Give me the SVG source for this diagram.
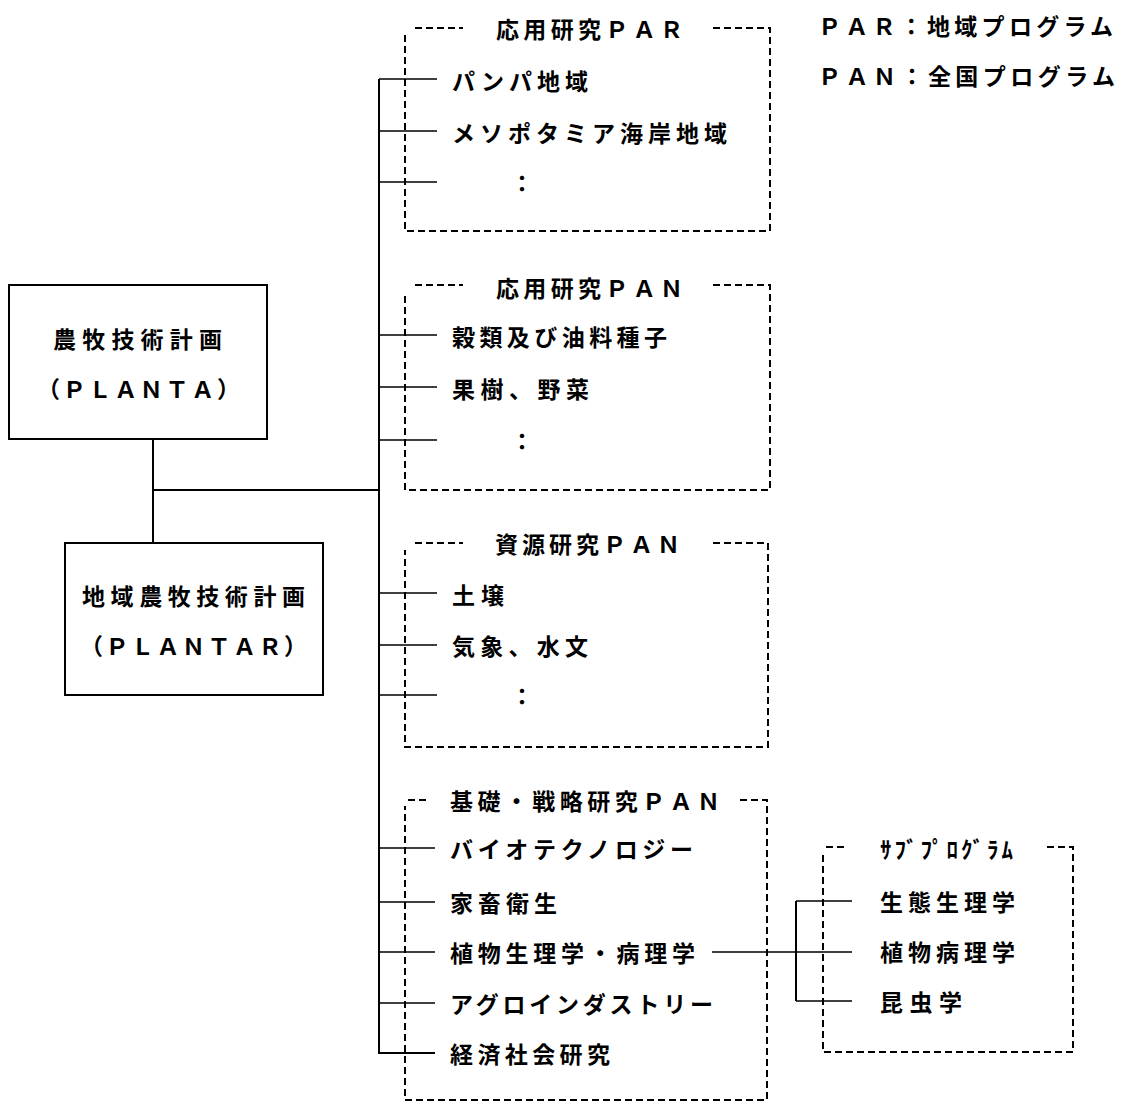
<svg xmlns="http://www.w3.org/2000/svg" width="1125" height="1105" viewBox="0 0 1125 1105">
<style>
text{font-family:"Noto Sans CJK JP","Noto Sans",sans-serif;font-size:23px;font-weight:700;fill:#000;dominant-baseline:central}
.box{fill:none;stroke:#000;stroke-width:2}
.dash{fill:none;stroke:#000;stroke-width:2;stroke-dasharray:7 4}
.ln{fill:none;stroke:#000;stroke-width:2}
.thin{fill:none;stroke:#000;stroke-width:1.5}
</style>
<rect width="1125" height="1105" fill="#fff"/>
<g id="legend">
<text x="818" y="25" textLength="295" lengthAdjust="spacing">ＰＡＲ：地域プログラム</text>
<text x="818" y="75" textLength="297" lengthAdjust="spacing">ＰＡＮ：全国プログラム</text>
</g>
<g id="planta">
<rect class="box" x="9" y="285" width="258" height="154"/>
<text x="53" y="338" textLength="169" lengthAdjust="spacing">農牧技術計画</text>
<text x="37" y="388" textLength="203" lengthAdjust="spacing">（ＰＬＡＮＴＡ）</text>
</g>
<g id="plantar">
<rect class="box" x="65" y="543" width="258" height="152"/>
<text x="82" y="595" textLength="223" lengthAdjust="spacing">地域農牧技術計画</text>
<text x="80" y="645" textLength="227" lengthAdjust="spacing">（ＰＬＡＮＴＡＲ）</text>
</g>
<g id="par">
<path class="dash" d="M415 28H463M713 28H770V231H405V35"/>
<text x="496" y="28" textLength="187" lengthAdjust="spacing">応用研究ＰＡＲ</text>
<text x="452" y="80" textLength="136" lengthAdjust="spacing">パンパ地域</text>
<text x="452" y="132" textLength="275" lengthAdjust="spacing">メソポタミア海岸地域</text>
<text x="522" y="182" text-anchor="middle">：</text>
</g>
<g id="pan1">
<path class="dash" d="M415 285H463M713 285H770V490H405V292"/>
<text x="496" y="287" textLength="187" lengthAdjust="spacing">応用研究ＰＡＮ</text>
<text x="452" y="336" textLength="215" lengthAdjust="spacing">穀類及び油料種子</text>
<text x="452" y="388" textLength="137" lengthAdjust="spacing">果樹、野菜</text>
<text x="522" y="440" text-anchor="middle">：</text>
</g>
<g id="pan2">
<path class="dash" d="M415 543H463M713 543H768V747H405V550"/>
<text x="495" y="543" textLength="185" lengthAdjust="spacing">資源研究ＰＡＮ</text>
<text x="452" y="594" textLength="52" lengthAdjust="spacing">土壌</text>
<text x="452" y="645" textLength="136" lengthAdjust="spacing">気象、水文</text>
<text x="522" y="695" text-anchor="middle">：</text>
</g>
<g id="pan3">
<path class="dash" d="M408 800H428M740 800H767V1100H405V806"/>
<text x="450" y="800" textLength="270" lengthAdjust="spacing">基礎・戦略研究ＰＡＮ</text>
<text x="450" y="848" textLength="243" lengthAdjust="spacing">バイオテクノロジー</text>
<text x="450" y="902" textLength="107" lengthAdjust="spacing">家畜衛生</text>
<text x="450" y="952" textLength="245" lengthAdjust="spacing">植物生理学・病理学</text>
<text x="450" y="1003" textLength="263" lengthAdjust="spacing">アグロインダストリー</text>
<text x="450" y="1053" textLength="160" lengthAdjust="spacing">経済社会研究</text>
</g>
<g id="sub">
<path class="dash" d="M826 847H847M1047 847H1073V1052H823V853"/>
<text x="880" y="848" textLength="133" lengthAdjust="spacing">ｻﾌﾞﾌﾟﾛｸﾞﾗﾑ</text>
<text x="880" y="901" textLength="135" lengthAdjust="spacing">生態生理学</text>
<text x="880" y="951" textLength="135" lengthAdjust="spacing">植物病理学</text>
<text x="880" y="1001" textLength="82" lengthAdjust="spacing">昆虫学</text>
</g>
<g id="connectors">
<path class="ln" d="M153 439V543M153 490H379M379 79V1053H435"/>
<path class="thin" d="M379 79H437M379 131H437M379 182H437M379 335H437M379 387H437M379 440H437M379 593H437M379 645H437M379 695H437M379 848H435M379 902H435M379 952H435M379 1003H435"/>
<path class="thin" d="M712 952H852M796 901H852M796 1001H852"/>
<path class="ln" d="M796 901V1001"/>
</g>
</svg>
